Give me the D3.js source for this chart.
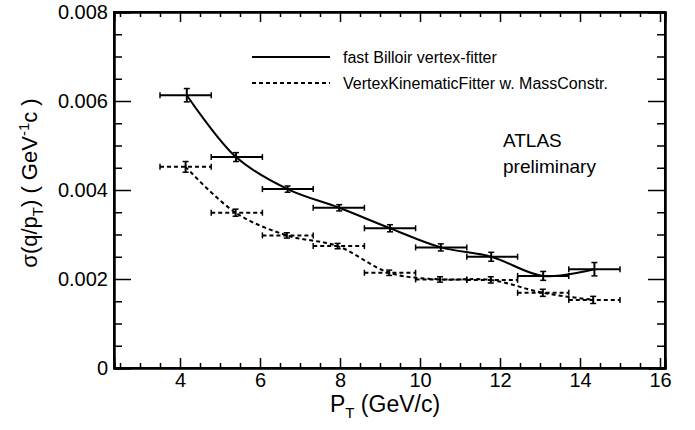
<!DOCTYPE html>
<html>
<head>
<meta charset="utf-8">
<script src="https://cdn.jsdelivr.net/npm/d3@7"></script>
<style>
  body { margin: 0; background: #fff; }
  text { font-family: "Liberation Sans", Arial, sans-serif; fill: #000; }
</style>
</head>
<body>
<div id="chart"></div>
<script>
// bin edges in pT (GeV/c), shared by both fitters
var binEdges = [3.5, 4.78, 6.06, 7.33, 8.61, 9.89, 11.17, 12.44, 13.72, 15.0];

// fast Billoir vertex-fitter
var billoirPt = [4.17, 5.40, 6.69, 7.98, 9.25, 10.52, 11.78, 13.08, 14.36];
var billoirSigma = [0.00613, 0.00474, 0.00402, 0.00360, 0.00314, 0.00271, 0.00250, 0.00207, 0.00222];
var billoirErr = [0.00015, 0.00010, 0.00007, 0.00007, 0.00008, 0.00008, 0.00010, 0.00010, 0.00015];

// VertexKinematicFitter w. MassConstr.
var vkfPt = [4.14, 5.39, 6.67, 7.94, 9.23, 10.50, 11.77, 13.07, 14.33];
var vkfSigma = [0.00452, 0.00349, 0.00298, 0.00274, 0.00214, 0.00199, 0.00198, 0.00169, 0.00153];
var vkfErr = [0.00012, 0.00008, 0.00006, 0.00006, 0.00006, 0.00006, 0.00007, 0.00008, 0.00008];

var xMajor = [4, 6, 8, 10, 12, 14, 16];
var yMajor = [0, 0.002, 0.004, 0.006, 0.008];

var width = 695, height = 430;
var svg = d3.select("#chart").append("svg")
    .attr("width", width)
    .attr("height", height);

var x = d3.scaleLinear().domain([2.35, 16.125]).range([114, 665]);
var y = d3.scaleLinear().domain([0, 0.008]).range([368, 12]);

var xMinor = d3.range(2.5, 16.01, 0.5).filter(function(v) { return xMajor.indexOf(v) < 0; });
var yMinor = d3.range(0, 0.00801, 0.0005).filter(function(v) {
    return Math.abs(v / 0.002 - Math.round(v / 0.002)) > 0.01;
});

function yFmt(d) { return d === 0 ? "0" : d3.format(".3f")(d); }

// bottom axis
svg.append("g").attr("class", "ax")
    .attr("transform", "translate(0,368)")
    .call(d3.axisBottom(x).tickValues(xMajor).tickSize(-10).tickPadding(5));
svg.append("g").attr("class", "ax")
    .attr("transform", "translate(0,368)")
    .call(d3.axisBottom(x).tickValues(xMinor).tickSize(-5).tickFormat(""));
// top axis
svg.append("g").attr("class", "ax")
    .attr("transform", "translate(0,12)")
    .call(d3.axisTop(x).tickValues(xMajor).tickSize(-10).tickFormat(""));
svg.append("g").attr("class", "ax")
    .attr("transform", "translate(0,12)")
    .call(d3.axisTop(x).tickValues(xMinor).tickSize(-5).tickFormat(""));
// left axis
svg.append("g").attr("class", "ax")
    .attr("transform", "translate(114,0)")
    .call(d3.axisLeft(y).tickValues(yMajor).tickSize(-17).tickPadding(6).tickFormat(yFmt));
svg.append("g").attr("class", "ax")
    .attr("transform", "translate(114,0)")
    .call(d3.axisLeft(y).tickValues(yMinor).tickSize(-8).tickFormat(""));
// right axis
svg.append("g").attr("class", "ax")
    .attr("transform", "translate(665,0)")
    .call(d3.axisRight(y).tickValues(yMajor).tickSize(-17).tickFormat(""));
svg.append("g").attr("class", "ax")
    .attr("transform", "translate(665,0)")
    .call(d3.axisRight(y).tickValues(yMinor).tickSize(-8).tickFormat(""));

svg.selectAll(".ax path.domain").attr("stroke", "#000").attr("stroke-width", 2);
svg.selectAll(".ax .tick line").attr("stroke", "#000").attr("stroke-width", 1.5);
svg.selectAll(".ax .tick text").style("font-size", "20px").attr("fill", "#000");

// frame
svg.append("rect")
    .attr("x", x(2.35)).attr("y", y(0.008))
    .attr("width", x(16.125) - x(2.35)).attr("height", y(0) - y(0.008))
    .attr("fill", "none").attr("stroke", "#000").attr("stroke-width", 2);

function drawSeries(pt, sigma, err, dashed) {
    var pts = pt.map(function(p, i) {
        return { pt: p, s: sigma[i], e: err[i], lo: binEdges[i], hi: binEdges[i + 1] };
    });
    var g = svg.append("g");
    var dash = dashed ? "4,3" : null;

    var line = d3.line()
        .x(function(d) { return x(d.pt); })
        .y(function(d) { return y(d.s); })
        .curve(d3.curveCatmullRom.alpha(0.5));
    g.append("path").datum(pts)
        .attr("d", line)
        .attr("fill", "none")
        .attr("stroke", "#000")
        .attr("stroke-width", 2)
        .attr("stroke-dasharray", dash);

    // horizontal bars (bin width)
    g.selectAll(".hbar").data(pts).enter().append("line")
        .attr("x1", function(d) { return x(d.lo); })
        .attr("x2", function(d) { return x(d.hi); })
        .attr("y1", function(d) { return y(d.s); })
        .attr("y2", function(d) { return y(d.s); })
        .attr("stroke", "#000").attr("stroke-width", 2)
        .attr("stroke-dasharray", dash);
    // end caps
    ["lo", "hi"].forEach(function(k) {
        g.selectAll(".cap" + k).data(pts).enter().append("line")
            .attr("x1", function(d) { return x(d[k]); })
            .attr("x2", function(d) { return x(d[k]); })
            .attr("y1", function(d) { return y(d.s) - 3; })
            .attr("y2", function(d) { return y(d.s) + 3; })
            .attr("stroke", "#000").attr("stroke-width", 1.5);
    });
    // vertical error bars
    g.selectAll(".vbar").data(pts).enter().append("line")
        .attr("x1", function(d) { return x(d.pt); })
        .attr("x2", function(d) { return x(d.pt); })
        .attr("y1", function(d) { return y(d.s + d.e); })
        .attr("y2", function(d) { return y(d.s - d.e); })
        .attr("stroke", "#000").attr("stroke-width", 2);
    [1, -1].forEach(function(sgn) {
        g.selectAll(".vcap").data(pts).enter().append("line")
            .attr("x1", function(d) { return x(d.pt) - 3; })
            .attr("x2", function(d) { return x(d.pt) + 3; })
            .attr("y1", function(d) { return y(d.s + sgn * d.e); })
            .attr("y2", function(d) { return y(d.s + sgn * d.e); })
            .attr("stroke", "#000").attr("stroke-width", 1.5);
    });
}

drawSeries(vkfPt, vkfSigma, vkfErr, true);
drawSeries(billoirPt, billoirSigma, billoirErr, false);

// legend
var legend = [
    { label: "fast Billoir vertex-fitter", dash: null, y: 57 },
    { label: "VertexKinematicFitter w. MassConstr.", dash: "4,3", y: 83 }
];
legend.forEach(function(l) {
    svg.append("line")
        .attr("x1", 252).attr("x2", 330)
        .attr("y1", l.y).attr("y2", l.y)
        .attr("stroke", "#000").attr("stroke-width", 2)
        .attr("stroke-dasharray", l.dash);
    svg.append("text")
        .attr("x", 343).attr("y", l.y + 5.5)
        .style("font-size", "16px")
        .text(l.label);
});

svg.append("text").attr("x", 503).attr("y", 147)
    .style("font-size", "19px").text("ATLAS");
svg.append("text").attr("x", 503).attr("y", 173)
    .style("font-size", "19px").text("preliminary");

// x axis title
var xt = svg.append("text")
    .attr("x", 385).attr("y", 412)
    .attr("text-anchor", "middle")
    .style("font-size", "23px");
xt.append("tspan").text("P");
xt.append("tspan").attr("dy", 6).style("font-size", "15px").text("T");
xt.append("tspan").attr("dy", -6).text(" (GeV/c)");

// y axis title
var yt = svg.append("text")
    .attr("transform", "translate(37,183) rotate(-90)")
    .attr("text-anchor", "middle")
    .style("font-size", "22px");
yt.append("tspan").text("σ(q/p");
yt.append("tspan").attr("dy", 6).style("font-size", "15px").text("T");
yt.append("tspan").attr("dy", -6).text(") ( GeV");
yt.append("tspan").attr("dy", -8).style("font-size", "15px").text("-1");
yt.append("tspan").attr("dy", 8).text("c )");
</script>
</body>
</html>
